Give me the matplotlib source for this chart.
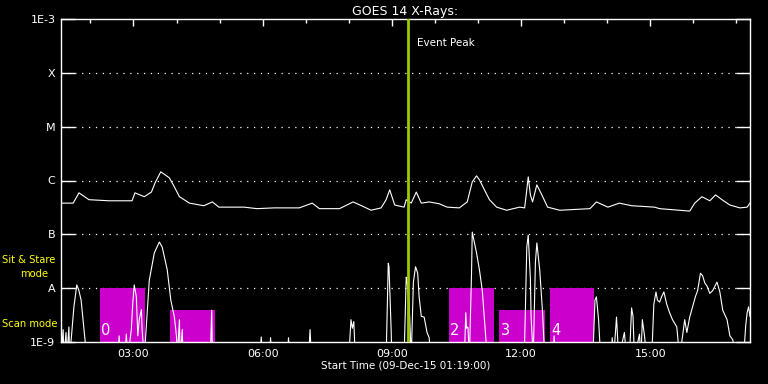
import numpy as np
import pandas as pd
import matplotlib
matplotlib.use("Agg")
import matplotlib.pyplot as plt
from matplotlib.patches import Rectangle
from matplotlib.transforms import blended_transform_factory

# ── data ──────────────────────────────────────────────────────────────────
# long channel (1-8 A), clock time / flux W m^-2
long_t = ["01:19", "01:36", "01:44", "01:58", "02:26", "02:58", "03:02", "03:15",
          "03:25", "03:30", "03:38", "03:50", "03:57", "04:04", "04:18", "04:38",
          "04:50", "04:59", "05:34", "05:52", "06:16", "06:51", "07:09", "07:19",
          "07:47", "08:06", "08:22", "08:31", "08:45", "08:52", "08:57", "09:04",
          "09:17", "09:20", "09:27", "09:34", "09:41", "09:52", "10:06", "10:17",
          "10:34", "10:45", "10:52", "10:58", "11:02", "11:09", "11:16", "11:26",
          "11:40", "11:58", "12:05", "12:08", "12:10", "12:13", "12:16", "12:22",
          "12:29", "12:37", "12:54", "13:36", "13:45", "14:01", "14:17", "14:34",
          "15:06", "15:13", "15:55", "16:02", "16:12", "16:23", "16:31", "16:40",
          "16:51", "17:05", "17:15", "17:19"]
long_f = [3.8e-7, 3.8e-7, 5.9e-7, 4.4e-7, 4.2e-7, 4.2e-7, 5.9e-7, 5.0e-7,
          6.1e-7, 9.0e-7, 1.45e-6, 1.12e-6, 7.6e-7, 5.0e-7, 3.8e-7, 3.4e-7,
          4.0e-7, 3.2e-7, 3.2e-7, 3.0e-7, 3.1e-7, 3.1e-7, 3.8e-7, 3.0e-7,
          3.0e-7, 4.0e-7, 3.2e-7, 2.8e-7, 3.1e-7, 4.4e-7, 6.7e-7, 3.5e-7,
          3.2e-7, 4.4e-7, 3.8e-7, 6.1e-7, 3.8e-7, 4.0e-7, 3.7e-7, 3.2e-7,
          3.1e-7, 4.0e-7, 9.4e-7, 1.22e-6, 1.03e-6, 6.7e-7, 4.4e-7, 3.2e-7,
          2.8e-7, 3.2e-7, 3.1e-7, 6.7e-7, 1.17e-6, 5.4e-7, 4.0e-7, 8.3e-7,
          5.4e-7, 3.2e-7, 2.8e-7, 3.0e-7, 4.0e-7, 3.2e-7, 3.8e-7, 3.4e-7,
          3.2e-7, 3.0e-7, 2.7e-7, 3.8e-7, 5.0e-7, 4.2e-7, 5.4e-7, 4.4e-7,
          3.5e-7, 3.1e-7, 3.2e-7, 3.8e-7]

# short channel (0.5-4 A); 5e-10 means below the plot floor
short_t = ["01:19", "01:22", "01:23", "01:26", "01:27", "01:30", "01:31", "01:34",
           "01:37", "01:40", "01:41", "01:44", "01:47", "01:51", "01:55", "02:38",
           "02:40", "02:42", "02:48", "02:50", "02:52", "02:57", "02:59", "03:01",
           "03:04", "03:05", "03:06", "03:08", "03:11", "03:12", "03:15", "03:19",
           "03:22", "03:29", "03:36", "03:40", "03:47", "03:52", "03:57", "04:00",
           "04:01", "04:04", "04:05", "04:08", "04:09", "04:47", "04:49", "04:50",
           "05:56", "05:58", "06:00", "06:09", "06:11", "06:13", "06:34", "06:36",
           "06:38", "07:04", "07:06", "07:08", "08:00", "08:03", "08:05", "08:07",
           "08:09", "08:52", "08:55", "08:56", "08:59", "09:00", "09:17", "09:20",
           "09:21", "09:24", "09:27", "09:30", "09:33", "09:36", "09:38", "09:41",
           "09:45", "09:49", "09:52", "09:54", "10:41", "10:43", "10:44", "10:46",
           "10:48", "10:51", "10:52", "10:55", "10:58", "11:02", "11:06", "11:09",
           "11:13", "12:03", "12:05", "12:08", "12:10", "12:13", "12:14", "12:17",
           "12:20", "12:22", "12:26", "12:30", "12:33", "12:45", "12:46", "12:48",
           "13:40", "13:43", "13:45", "13:48", "13:51", "14:06", "14:07", "14:09",
           "14:13", "14:16", "14:24", "14:27", "14:31", "14:34", "14:36", "14:38",
           "14:45", "14:47", "14:49", "14:52", "14:55", "15:02", "15:05", "15:08",
           "15:10", "15:13", "15:16", "15:19", "15:23", "15:27", "15:31", "15:37",
           "15:41", "15:48", "15:51", "15:55", "15:59", "16:03", "16:06", "16:10",
           "16:13", "16:16", "16:19", "16:23", "16:27", "16:33", "16:37", "16:41",
           "16:47", "16:51", "16:55", "16:59", "17:10", "17:13", "17:15", "17:17",
           "17:19"]
short_f = [5e-10, 1.7e-9, 5e-10, 1.5e-9, 5e-10, 1.9e-9, 5e-10, 1.5e-9,
           4.5e-9, 9e-9, 1.15e-8, 9e-9, 6e-9, 1.7e-9, 5e-10, 5e-10,
           1.3e-9, 5e-10, 5e-10, 1.4e-9, 5e-10, 1.7e-9, 5.3e-9, 1.15e-8,
           6.9e-9, 3e-9, 1.3e-9, 2.6e-9, 4e-9, 1.7e-9, 5e-10, 3.5e-9,
           1.4e-8, 4.5e-8, 7.2e-8, 5.8e-8, 2.2e-8, 6e-9, 2.9e-9, 1.24e-9,
           5e-10, 2.6e-9, 5e-10, 1.7e-9, 5e-10, 5e-10, 3.9e-9, 5e-10,
           5e-10, 1.24e-9, 5e-10, 5e-10, 1.2e-9, 5e-10, 5e-10, 1.2e-9,
           5e-10, 5e-10, 1.7e-9, 5e-10, 5e-10, 2.6e-9, 1.8e-9, 2.4e-9,
           5e-10, 5e-10, 2.9e-8, 2.5e-8, 1.7e-9, 5e-10, 5e-10, 1.6e-8,
           1.4e-8, 5.5e-9, 5e-10, 1.3e-8, 2.5e-8, 1.9e-8, 6.9e-9, 3e-9,
           2.9e-9, 1.5e-9, 1.2e-9, 5e-10, 5e-10, 3.5e-9, 1.8e-9, 1.9e-9,
           5e-10, 1.9e-8, 1.1e-7, 7e-8, 4.5e-8, 2.2e-8, 9e-9, 2.6e-9,
           5e-10, 5e-10, 1.0e-9, 5.8e-8, 9.7e-8, 1.5e-8, 2.9e-9, 5e-10,
           3e-8, 6.9e-8, 2.2e-8, 3.5e-9, 5e-10, 5e-10, 1.3e-9, 5e-10,
           5e-10, 6e-9, 6.9e-9, 2.6e-9, 5e-10, 5e-10, 1.2e-9, 5e-10,
           2.9e-9, 5e-10, 1.5e-9, 5e-10, 5e-10, 4.3e-9, 3e-9, 5e-10,
           1.4e-9, 5e-10, 2.6e-9, 1.3e-9, 5e-10, 5e-10, 5e-9, 8.5e-9,
           6e-9, 5.5e-9, 7e-9, 8.5e-9, 5e-9, 3.5e-9, 2.6e-9, 1.9e-9,
           5e-10, 2.6e-9, 1.5e-9, 2.9e-9, 4.5e-9, 7e-9, 9e-9, 1.9e-8,
           1.7e-8, 1.25e-8, 1.1e-8, 8e-9, 9e-9, 1.3e-8, 8.5e-9, 3.9e-9,
           2.6e-9, 1.3e-9, 1.1e-9, 5e-10, 5e-10, 2e-9, 3.5e-9, 4.5e-9,
           3e-9]

# observing-mode blocks (label "1" is hidden under the curve in the original)
mode_start = ["02:13", "03:51", "10:19", "11:29", "12:40"]
mode_end = ["03:16", "04:54", "11:22", "12:33", "13:41"]
mode_kind = ["sit", "scan", "sit", "scan", "sit"]
mode_label = ["0", "", "2", "3", "4"]

event_peak = "09:22"
t_start, t_end = "01:19", "17:19"

level_vals = [1e-9, 1e-8, 1e-7, 1e-6, 1e-5, 1e-4, 1e-3]
level_names = ["1E-9", "A", "B", "C", "M", "X", "1E-3"]
hour_ticks = [3, 6, 9, 12, 15]


def hrs(s):
    return pd.to_timedelta(pd.Series(s) + ":00").dt.total_seconds().to_numpy() / 3600.0


# ── figure ────────────────────────────────────────────────────────────────
fig = plt.figure(figsize=(7.68, 3.84), dpi=100)
fig.patch.set_facecolor("black")
ax = fig.add_axes([61 / 768, 42 / 384, 689 / 768, 323 / 384])
ax.set_facecolor("black")

ax.set_yscale("log")
ax.set_ylim(1e-9, 1e-3)
ax.set_xlim(hrs([t_start])[0], hrs([t_end])[0])

for s in ax.spines.values():
    s.set_color("white")
    s.set_linewidth(1.0)

# dotted level lines
for v in level_vals[1:-1]:
    ax.axhline(v, color="white", lw=0.9, ls=(0, (1, 4.5)), zorder=1)

# mode blocks
mode_top = {"sit": 1e-8, "scan": 4e-9}
t0, t1 = hrs(mode_start), hrs(mode_end)
for a, b, k, lab in zip(t0, t1, mode_kind, mode_label):
    ax.add_patch(Rectangle((a, 1e-9), b - a, mode_top[k] - 1e-9,
                           facecolor="#cc00cc", edgecolor="none", zorder=2))
    if lab:
        ax.text(a + 0.04, 1.2e-9, lab, color="white", fontsize=10.5,
                ha="left", va="bottom", zorder=3)

# curves
ax.plot(hrs(long_t), long_f, color="white", lw=0.8, zorder=4)
ax.plot(hrs(short_t), short_f, color="white", lw=0.8, zorder=4)

# event peak
ep = hrs([event_peak])[0]
ax.axvline(ep, color="#99cc00", lw=2.0, zorder=5)
ax.text(ep + 0.22, 10 ** -3.45, "Event Peak", color="white", fontsize=7.5,
        ha="left", va="center")

# y axis
ax.set_yticks(level_vals)
ax.set_yticklabels(level_names)
ax.yaxis.set_minor_locator(matplotlib.ticker.NullLocator())
ax.tick_params(axis="y", which="major", direction="in", length=10, width=1.0,
               color="white", labelcolor="white", labelsize=8, pad=4,
               left=True, right=True)

# x axis: labels at bottom, ticks on top
ax.set_xticks(hour_ticks)
ax.set_xticklabels([f"{h:02d}:00" for h in hour_ticks])
ax.set_xticks(np.arange(2, 18), minor=True)
ax.tick_params(axis="x", which="major", direction="in", length=5, width=1.0,
               color="white", labelcolor="white", labelsize=8, pad=5,
               top=True, bottom=False)
ax.tick_params(axis="x", which="minor", direction="in", length=3, width=1.0,
               color="white", top=True, bottom=False)

ax.set_title("GOES 14 X-Rays:", color="white", fontsize=9, pad=3)
ax.set_xlabel("Start Time (09-Dec-15 01:19:00)", color="white", fontsize=7.5,
              labelpad=1)

# mode captions left of the axis
tr = blended_transform_factory(ax.transAxes, ax.transData)
ax.text(-0.086, 3.3e-8, "Sit & Stare", color="yellow", fontsize=7.2,
        ha="left", va="center", transform=tr)
ax.text(-0.039, 1.8e-8, "mode", color="yellow", fontsize=7.2,
        ha="center", va="center", transform=tr)
ax.text(-0.086, 2.15e-9, "Scan mode", color="yellow", fontsize=7.2,
        ha="left", va="center", transform=tr)

fig.savefig("out.png", dpi=100, facecolor="black")
